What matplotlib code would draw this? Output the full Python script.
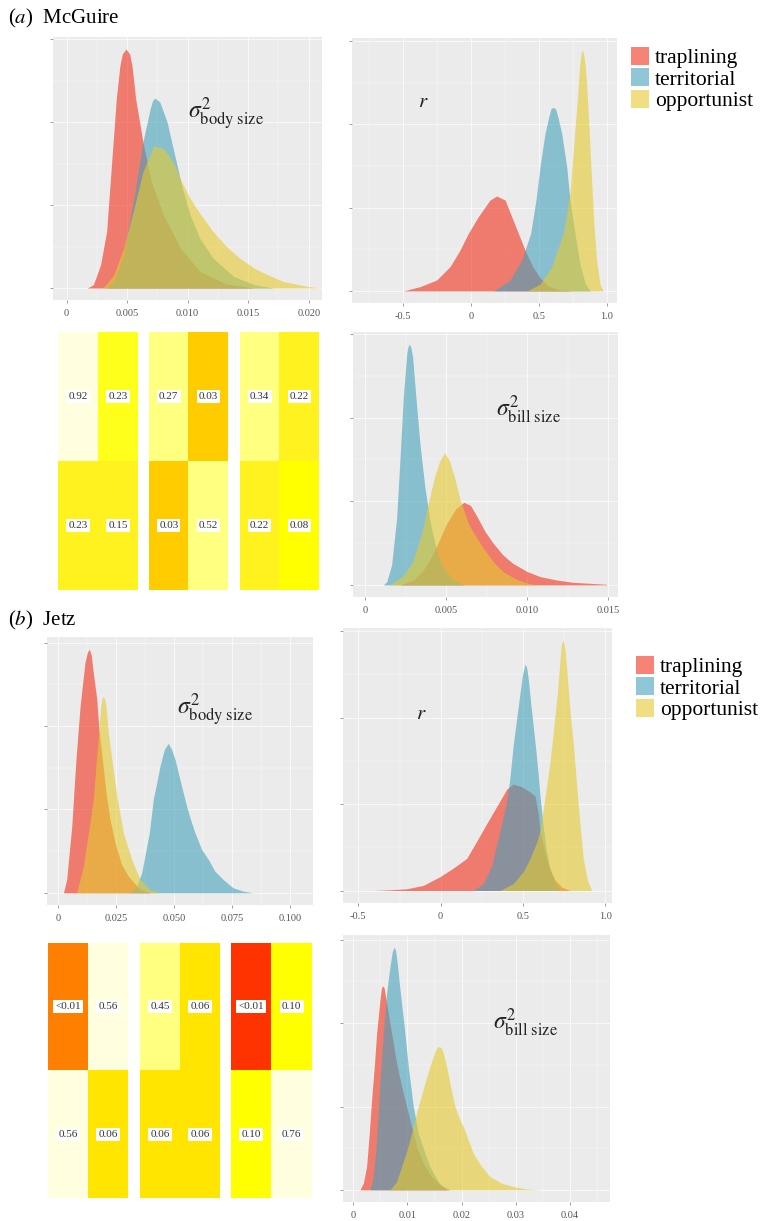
import numpy as np
import matplotlib
matplotlib.use("Agg")
import matplotlib.pyplot as plt
from matplotlib.patches import Patch
from matplotlib.colors import to_rgb
from matplotlib.ticker import MultipleLocator

plt.rcParams['font.family'] = ['Liberation Serif', 'DejaVu Serif']
plt.rcParams['mathtext.fontset'] = 'stix'

W, H = 765, 1221

groups = ["traplining", "territorial", "opportunist"]
fills = ["#F3301B", "#46A3BB", "#E6CB2F"]

# ---- (a) McGuire: posterior densities (relative heights)
mc_body_trap_x = [0.0017, 0.0022, 0.0028, 0.0033, 0.0037, 0.0041, 0.0044, 0.0046, 0.0049, 0.0052,
                  0.0054, 0.0057, 0.0063, 0.0070, 0.0080, 0.0094, 0.0110, 0.0132, 0.0155]
mc_body_trap_y = [0, 10, 70, 170, 370, 570, 670, 705, 720, 705, 670, 570, 440, 320, 220, 120,
                  50, 12, 0]
mc_body_terr_x = [0.0033, 0.0039, 0.0047, 0.0055, 0.0063, 0.0069, 0.0071, 0.0073, 0.0077, 0.0083,
                  0.0088, 0.0095, 0.0102, 0.0110, 0.0121, 0.0138, 0.0155, 0.0171]
mc_body_terr_y = [0, 20, 100, 260, 440, 540, 565, 572, 560, 500, 420, 310, 220, 150, 90, 35, 10, 0]
mc_body_opp_x = [0.0030, 0.0039, 0.0047, 0.0055, 0.0063, 0.0072, 0.0080, 0.0088, 0.0095, 0.0102,
                 0.0110, 0.0121, 0.0132, 0.0143, 0.0155, 0.0166, 0.0179, 0.0199, 0.0210]
mc_body_opp_y = [0, 40, 120, 230, 350, 428, 420, 380, 320, 270, 225, 170, 125, 90, 60, 40, 20, 5, 0]

mc_r_trap_x = [-0.499, -0.376, -0.253, -0.155, -0.081, -0.020, 0.054, 0.140, 0.189, 0.251,
               0.300, 0.349, 0.398, 0.455, 0.509, 0.570, 0.657, 0.755]
mc_r_trap_y = [0, 13, 33, 73, 123, 173, 223, 273, 285, 273, 223, 173, 123, 73, 40, 15, 3, 0]
mc_r_terr_x = [0.165, 0.288, 0.374, 0.440, 0.479, 0.509, 0.546, 0.575, 0.590, 0.607, 0.625,
               0.645, 0.669, 0.706, 0.730, 0.767, 0.804, 0.841, 0.878]
mc_r_terr_y = [0, 33, 93, 173, 273, 373, 473, 525, 547, 551, 545, 515, 473, 373, 273, 173, 80,
               25, 0]
mc_r_opp_x = [0.411, 0.509, 0.595, 0.681, 0.730, 0.755, 0.784, 0.800, 0.812, 0.821, 0.832, 0.843,
              0.853, 0.873, 0.890, 0.907, 0.927, 0.952, 0.976]
mc_r_opp_y = [0, 20, 73, 173, 293, 423, 573, 670, 712, 723, 710, 675, 620, 470, 330, 200, 90,
              20, 0]

mc_bill_trap_x = [0.0022, 0.0030, 0.0036, 0.0041, 0.0045, 0.0050, 0.0056, 0.0061, 0.0065, 0.0069,
                  0.0074, 0.0079, 0.0085, 0.0091, 0.0100, 0.0108, 0.0118, 0.0128, 0.0149]
mc_bill_trap_y = [0, 15, 45, 85, 125, 180, 228, 247, 238, 205, 160, 125, 90, 65, 40, 25, 15, 8, 2]
mc_bill_terr_x = [0.00113, 0.00134, 0.00164, 0.00195, 0.00216, 0.00236, 0.00257, 0.00265,
                  0.00273, 0.00283, 0.00294, 0.00314, 0.00339, 0.00370, 0.00401, 0.00442,
                  0.00483, 0.00545, 0.00607]
mc_bill_terr_y = [0, 10, 60, 200, 380, 560, 690, 712, 720, 710, 680, 560, 420, 290, 190, 100,
                  50, 15, 0]
mc_bill_opp_x = [0.0015, 0.0023, 0.0029, 0.0033, 0.0036, 0.0038, 0.0043, 0.0046, 0.0049, 0.0052,
                 0.0055, 0.0059, 0.0064, 0.0069, 0.0073, 0.0079, 0.0085, 0.0094, 0.0102, 0.0108]
mc_bill_opp_y = [0, 25, 65, 125, 175, 225, 325, 370, 395, 372, 325, 250, 180, 140, 110, 70, 40,
                 15, 3, 0]

# ---- (b) Jetz
jz_body_trap_x = [0.0022, 0.0036, 0.0058, 0.0076, 0.0094, 0.0115, 0.0125, 0.0134, 0.0142, 0.0151,
                  0.0166, 0.0174, 0.0190, 0.0206, 0.0223, 0.0245, 0.0273, 0.0302, 0.0353, 0.0396]
jz_body_trap_y = [0, 40, 200, 400, 560, 690, 720, 730, 712, 660, 580, 500, 400, 300, 220, 150,
                  85, 50, 10, 0]
jz_body_terr_x = [0.0309, 0.0338, 0.0360, 0.0393, 0.0410, 0.0425, 0.0439, 0.0458, 0.0475, 0.0489,
                  0.0504, 0.0518, 0.0532, 0.0554, 0.0571, 0.0590, 0.0619, 0.0648, 0.0676, 0.0712,
                  0.0755, 0.0799, 0.0842]
jz_body_terr_y = [0, 20, 60, 180, 280, 330, 380, 430, 448, 430, 400, 360, 320, 260, 220, 180,
                  130, 100, 65, 40, 15, 5, 0]
jz_body_opp_x = [0.0079, 0.0108, 0.0130, 0.0151, 0.0174, 0.0183, 0.0191, 0.0198, 0.0206, 0.0216,
                 0.0235, 0.0255, 0.0281, 0.0317, 0.0353, 0.0396, 0.0439]
jz_body_opp_y = [0, 80, 180, 280, 480, 560, 588, 585, 560, 480, 380, 280, 180, 100, 40, 10, 0]

jz_r_trap_x = [-0.409, -0.308, -0.206, -0.105, -0.004, 0.077, 0.158, 0.219, 0.279, 0.340, 0.401,
               0.441, 0.492, 0.543, 0.573, 0.593, 0.603, 0.628, 0.654, 0.694, 0.735, 0.785]
jz_r_trap_y = [0, 2, 5, 15, 40, 65, 93, 143, 193, 243, 293, 308, 300, 285, 273, 220, 173, 120,
               73, 30, 10, 0]
jz_r_terr_x = [0.198, 0.259, 0.310, 0.360, 0.397, 0.417, 0.441, 0.462, 0.482, 0.497, 0.512,
               0.522, 0.532, 0.547, 0.563, 0.579, 0.593, 0.603, 0.619, 0.640, 0.664, 0.694, 0.725]
jz_r_terr_y = [0, 20, 73, 173, 250, 313, 423, 500, 573, 625, 655, 645, 610, 540, 470, 400, 330,
               273, 200, 120, 60, 20, 0]
jz_r_opp_x = [0.360, 0.441, 0.502, 0.543, 0.583, 0.603, 0.634, 0.664, 0.688, 0.709, 0.725, 0.733,
              0.741, 0.750, 0.757, 0.765, 0.785, 0.806, 0.826, 0.846, 0.866, 0.891, 0.917]
jz_r_opp_y = [0, 20, 55, 93, 140, 173, 273, 373, 480, 573, 670, 712, 723, 712, 685, 640, 520,
              420, 300, 190, 90, 30, 0]

jz_bill_trap_x = [0.00123, 0.00185, 0.00246, 0.00295, 0.00338, 0.00388, 0.00431, 0.00492,
                  0.00520, 0.00542, 0.00570, 0.00615, 0.00708, 0.00800, 0.00892, 0.00985,
                  0.01077, 0.01169, 0.01292, 0.01446, 0.01600, 0.01785]
jz_bill_trap_y = [0, 20, 70, 170, 270, 370, 470, 570, 605, 612, 605, 560, 470, 380, 310, 250,
                  190, 130, 80, 40, 15, 0]
jz_bill_terr_x = [0.00308, 0.00369, 0.00431, 0.00492, 0.00554, 0.00615, 0.00677, 0.00720,
                  0.00757, 0.00780, 0.00812, 0.00849, 0.00905, 0.00954, 0.01015, 0.01108,
                  0.01200, 0.01323, 0.01415, 0.01569, 0.01723]
jz_bill_terr_y = [0, 40, 150, 330, 470, 590, 670, 715, 728, 718, 680, 620, 540, 470, 370, 250,
                  170, 110, 70, 25, 0]
jz_bill_opp_x = [0.00677, 0.00800, 0.00892, 0.00985, 0.01077, 0.01200, 0.01323, 0.01415, 0.01508,
                 0.01550, 0.01588, 0.01630, 0.01662, 0.01723, 0.01797, 0.01877, 0.01957, 0.02031,
                 0.02123, 0.02215, 0.02369, 0.02523, 0.02738, 0.02954, 0.03200, 0.03446]
jz_bill_opp_y = [0, 25, 70, 115, 170, 250, 320, 370, 415, 428, 430, 425, 410, 370, 310, 250,
                 215, 190, 150, 110, 70, 40, 20, 10, 3, 0]

# ---- pairwise difference tables (p values), one 2x2 per parameter
mc_pvals = [[["0.92", "0.23"], ["0.23", "0.15"]],
            [["0.27", "0.03"], ["0.03", "0.52"]],
            [["0.34", "0.22"], ["0.22", "0.08"]]]
jz_pvals = [[["<0.01", "0.56"], ["0.56", "0.06"]],
            [["0.45", "0.06"], ["0.06", "0.06"]],
            [["<0.01", "0.10"], ["0.10", "0.76"]]]

# tile colours as rendered
mc_tiles = [[["#FFFFE0", "#FFFF1C"], ["#FFF21E", "#FFF21E"]],
            [["#FFFF80", "#FFCC00"], ["#FFCC00", "#FFFF80"]],
            [["#FFFF80", "#FFF21E"], ["#FFF21E", "#FFFF00"]]]
jz_tiles = [[["#FF8000", "#FFFFE0"], ["#FFFFE0", "#FFE500"]],
            [["#FFFF80", "#FFE500"], ["#FFE500", "#FFE500"]],
            [["#FF3300", "#FFFF00"], ["#FFFF00", "#FFFFE0"]]]

fig = plt.figure(figsize=(W / 100, H / 100), dpi=100)


def px_axes(x0, y0, x1, y1):
    return fig.add_axes([x0 / W, 1 - y1 / H, (x1 - x0) / W, (y1 - y0) / H])


def density_panel(rect, curves, xlim, xticks, xlabels, label, lab_pos, fs):
    ax = px_axes(*rect)
    ax.set_facecolor('#EBEBEB')
    for (x, y), c in zip(curves, fills):
        ax.fill_between(x, 0, y, color=c, alpha=0.6, lw=0)
    top = max(max(y) for x, y in curves)
    ax.set_xticks(xticks)
    ax.set_xticklabels(xlabels)
    step = xticks[1] - xticks[0]
    minor = np.arange(xticks[0] - step / 2, xticks[-1] + step, step)
    ax.set_xticks(minor, minor=True)
    # limits after the ticks, otherwise set_xticks widens the view
    ax.set_xlim(xlim)
    ax.set_ylim(-0.05 * top, 1.05 * top)
    ax.yaxis.set_major_locator(MultipleLocator(250))
    ax.yaxis.set_minor_locator(MultipleLocator(125))
    ax.grid(which='major', color='white', lw=0.7, alpha=0.7)
    ax.grid(which='minor', color='white', lw=0.35, alpha=0.7)
    ax.set_axisbelow(True)
    ax.tick_params(which='major', length=2.5, width=0.5, color='#777777',
                   labelsize=7.5, labelcolor='#555555', pad=4)
    ax.tick_params(which='minor', length=0)
    ax.set_yticklabels([])
    for s in ax.spines.values():
        s.set_visible(False)
    ax.text(lab_pos[0], lab_pos[1], label, transform=ax.transAxes,
            fontsize=fs, va='center', ha='left', color='#222222')
    return ax


def heat_panel(rect, labels, tiles):
    ax = px_axes(*rect)
    rgb = np.array([[to_rgb(c) for c in row] for row in tiles])
    ax.imshow(rgb, aspect='auto', interpolation='nearest')
    for i in range(2):
        for j in range(2):
            ax.text(j, i, labels[i][j], ha='center', va='center', fontsize=8,
                    color='#333333',
                    bbox=dict(facecolor='white', edgecolor='none', pad=1.5))
    ax.axis('off')
    return ax


sig_body = r'$\sigma^2_{\mathrm{body\ size}}$'
sig_bill = r'$\sigma^2_{\mathrm{bill\ size}}$'

# ---------------- (a) McGuire
fig.text(8 / W, 1 - 18 / H, r'($\mathit{a}$)  McGuire', fontsize=15, va='center')

density_panel((53, 37, 322, 300),
              [(mc_body_trap_x, mc_body_trap_y), (mc_body_terr_x, mc_body_terr_y),
               (mc_body_opp_x, mc_body_opp_y)],
              (-0.00113, 0.0211), [0, 0.005, 0.010, 0.015, 0.020],
              ["0", "0.005", "0.010", "0.015", "0.020"], sig_body, (0.50, 0.71), 17)
density_panel((352, 38, 617, 303),
              [(mc_r_trap_x, mc_r_trap_y), (mc_r_terr_x, mc_r_terr_y),
               (mc_r_opp_x, mc_r_opp_y)],
              (-0.878, 1.077), [-0.5, 0, 0.5, 1.0], ["-0.5", "0", "0.5", "1.0"],
              r'$r$', (0.25, 0.755), 15)
density_panel((353, 332, 618, 597),
              [(mc_bill_trap_x, mc_bill_trap_y), (mc_bill_terr_x, mc_bill_terr_y),
               (mc_bill_opp_x, mc_bill_opp_y)],
              (-0.00074, 0.0156), [0, 0.005, 0.010, 0.015],
              ["0", "0.005", "0.010", "0.015"], sig_bill, (0.54, 0.706), 17)

for k, (x0, x1) in enumerate([(58, 138), (149, 228), (240, 319)]):
    heat_panel((x0, 332, x1, 590), mc_pvals[k], mc_tiles[k])

handles = [Patch(facecolor=c, alpha=0.6, edgecolor='none') for c in fills]
fig.legend(handles, groups, loc='upper left', bbox_to_anchor=(631 / W, 1 - 47 / H),
           frameon=False, fontsize=15.5, handlelength=0.85, handleheight=0.9,
           handletextpad=0.25, labelspacing=0.0, borderpad=0, borderaxespad=0)

# ---------------- (b) Jetz
fig.text(8 / W, 1 - 620 / H, r'($\mathit{b}$)  Jetz', fontsize=15, va='center')

density_panel((47, 637, 313, 905),
              [(jz_body_trap_x, jz_body_trap_y), (jz_body_terr_x, jz_body_terr_y),
               (jz_body_opp_x, jz_body_opp_y)],
              (-0.0049, 0.110), [0, 0.025, 0.050, 0.075, 0.100],
              ["0", "0.025", "0.050", "0.075", "0.100"], sig_body, (0.49, 0.73), 17)
density_panel((343, 628, 612, 903),
              [(jz_r_trap_x, jz_r_trap_y), (jz_r_terr_x, jz_r_terr_y),
               (jz_r_opp_x, jz_r_opp_y)],
              (-0.593, 1.04), [-0.5, 0, 0.5, 1.0], ["-0.5", "0", "0.5", "1.0"],
              r'$r$', (0.27, 0.684), 15)
density_panel((343, 935, 610, 1202),
              [(jz_bill_trap_x, jz_bill_trap_y), (jz_bill_terr_x, jz_bill_terr_y),
               (jz_bill_opp_x, jz_bill_opp_y)],
              (-0.0019, 0.0474), [0, 0.01, 0.02, 0.03, 0.04],
              ["0", "0.01", "0.02", "0.03", "0.04"], sig_bill, (0.56, 0.67), 17)

for k, (x0, x1) in enumerate([(48, 128), (140, 220), (231, 312)]):
    heat_panel((x0, 943, x1, 1198), jz_pvals[k], jz_tiles[k])

fig.legend(handles, groups, loc='upper left', bbox_to_anchor=(636 / W, 1 - 656 / H),
           frameon=False, fontsize=15.5, handlelength=0.85, handleheight=0.9,
           handletextpad=0.25, labelspacing=0.0, borderpad=0, borderaxespad=0)

fig.savefig("out.png", dpi=100)
